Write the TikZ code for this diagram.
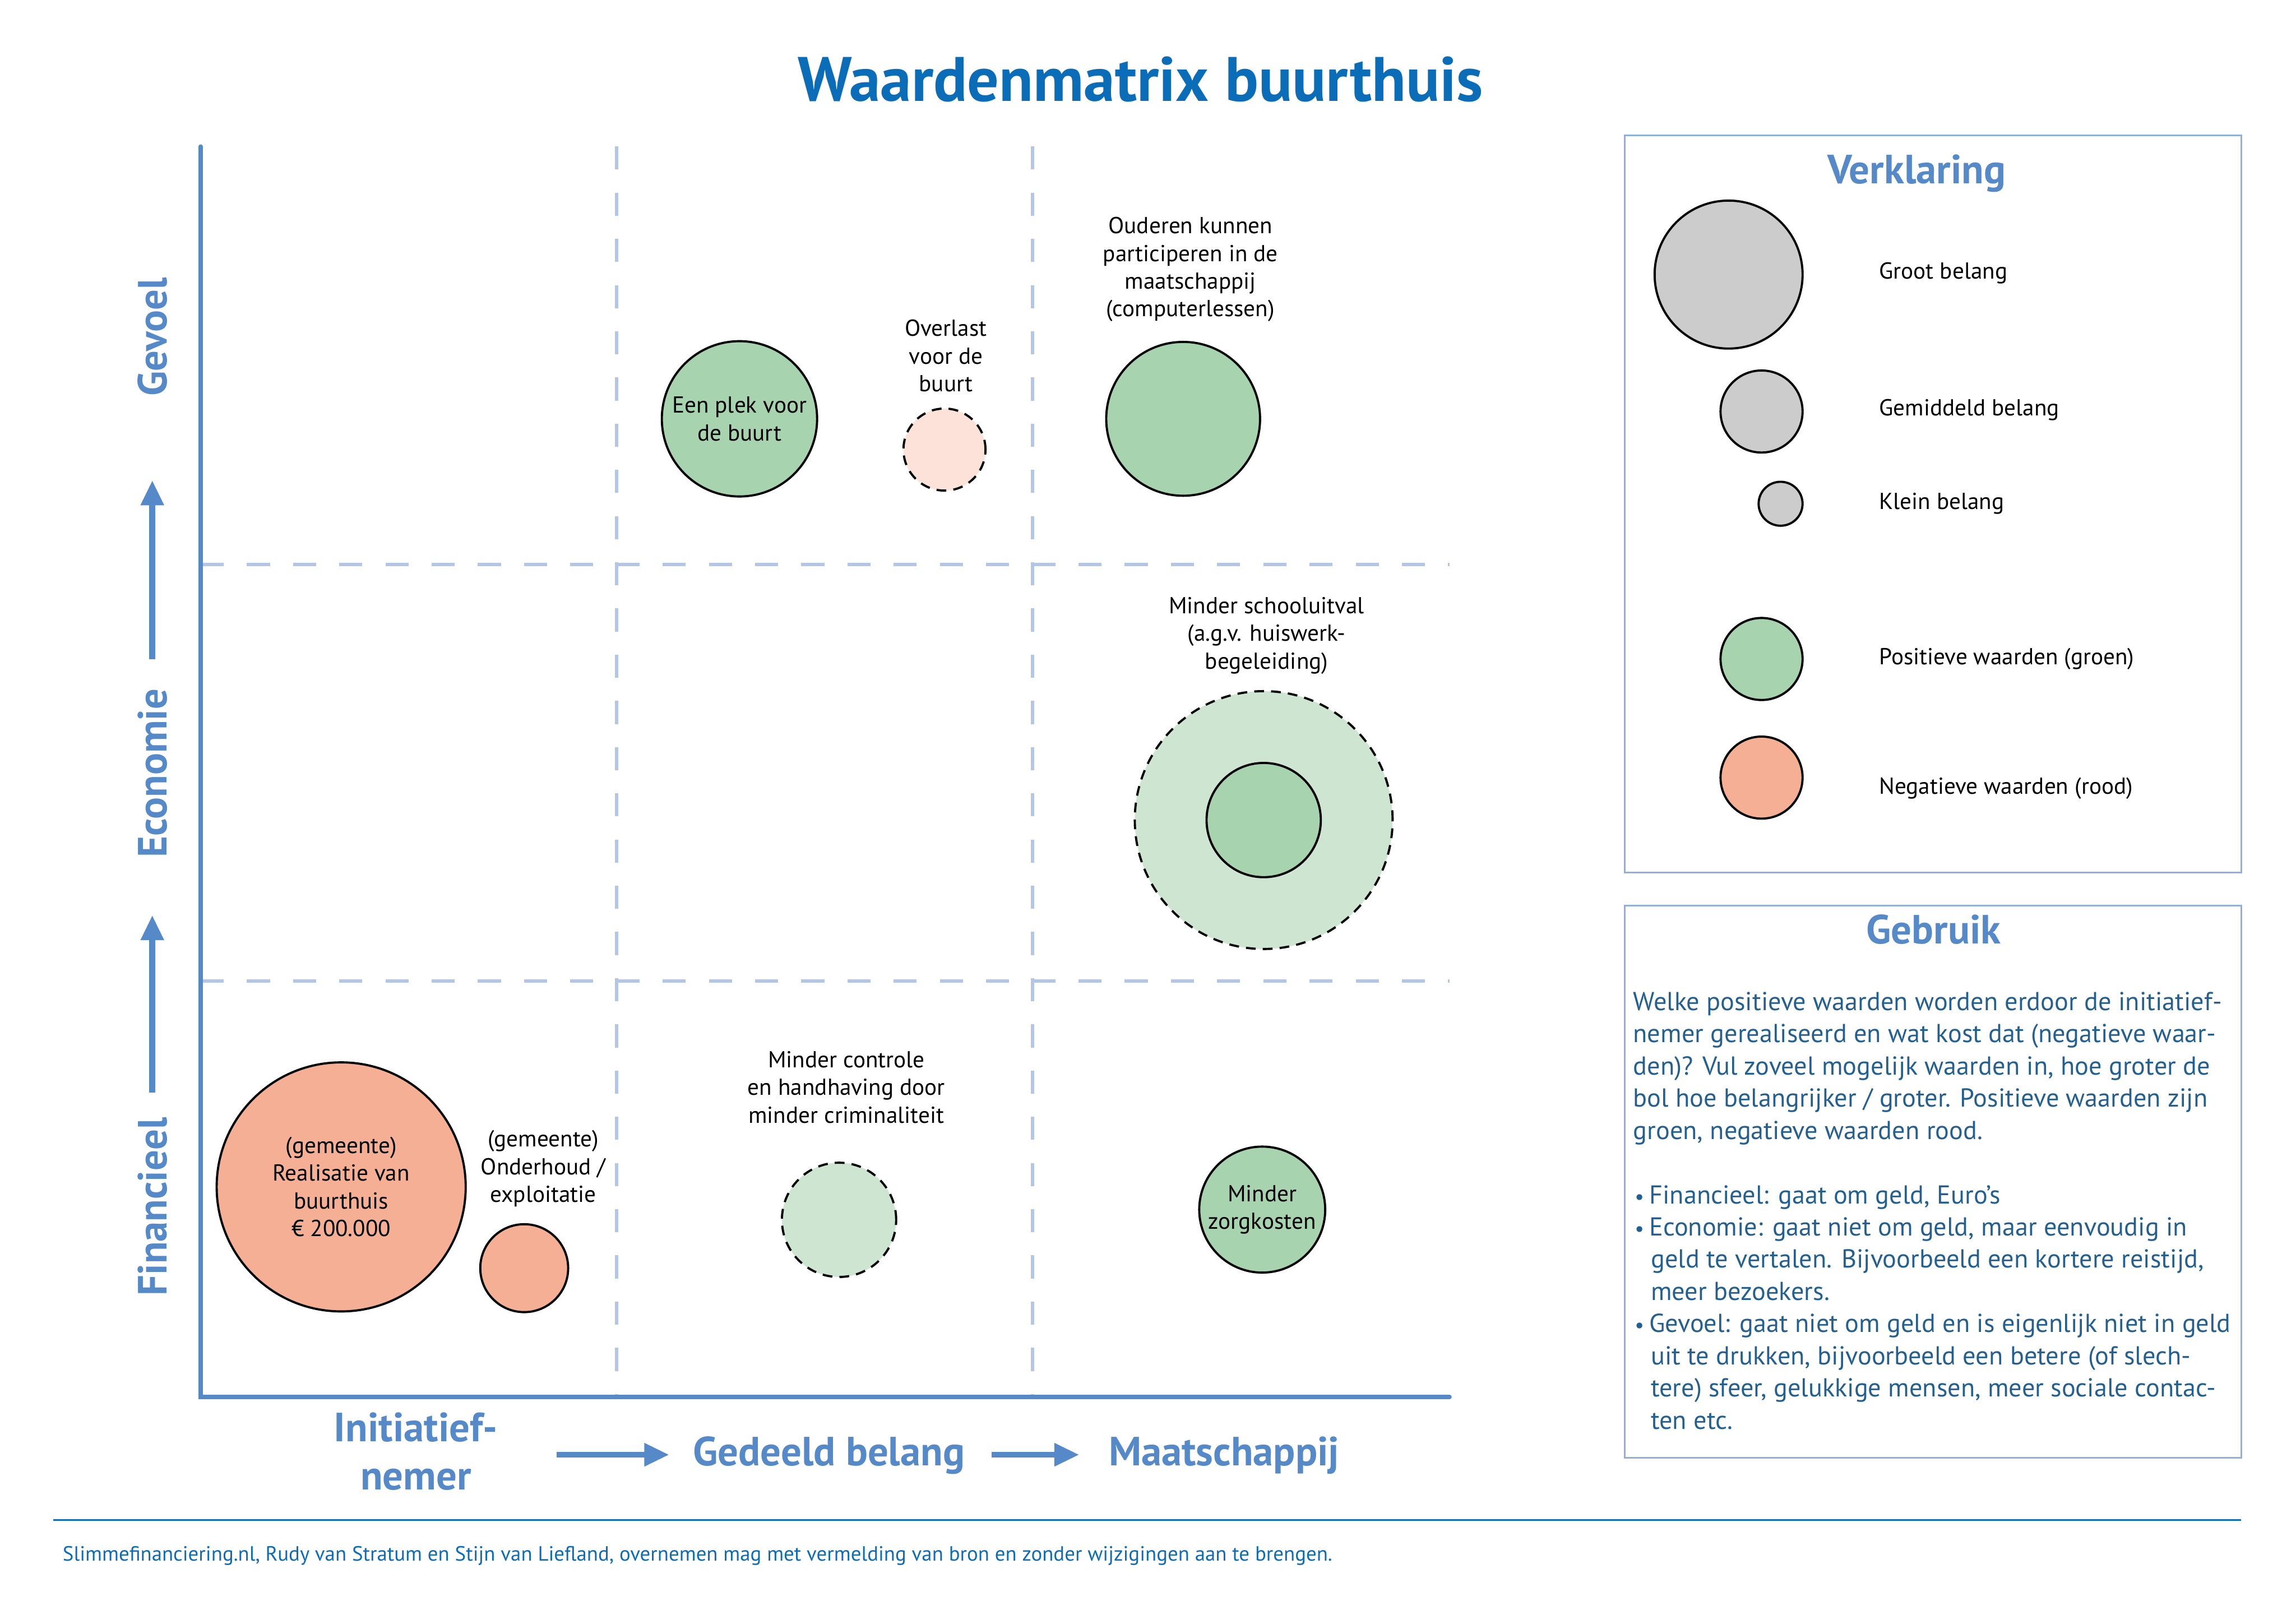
\documentclass[tikz,border=0pt]{standalone}
\usepackage{fontspec}
\setmainfont{PT Sans}
\usepackage{tikz}
\usetikzlibrary{arrows.meta,positioning}
\definecolor{titelblauw}{HTML}{0B6DB7}
\definecolor{asblauw}{HTML}{5589C8}
\definecolor{rasterblauw}{HTML}{B3C6E7}
\definecolor{kaderblauw}{HTML}{8FB1DE}
\definecolor{tekstblauw}{HTML}{24608F}
\definecolor{groen}{HTML}{A8D3AF}
\definecolor{lichtgroen}{HTML}{CEE6D1}
\definecolor{zalm}{HTML}{F4AF95}
\definecolor{lichtzalm}{HTML}{FCE2D8}
\definecolor{grijs}{HTML}{CCCCCC}
\newcommand{\punt}{\makebox[0.62em][l]{\hspace{0.06em}\scalebox{0.8}{•}}}
\newcommand{\inspring}{\hspace*{0.68em}}

\begin{document}
\begin{tikzpicture}[x=0.01894cm,y=-0.01894cm,
  bol/.style={circle,draw=black,line width=0.8pt,inner sep=0pt,minimum size=#1*0.03788cm,align=center,font=\fontsize{8.5}{10.2}\selectfont},
  groenbol/.style={bol=#1,fill=groen},
  roodbol/.style={bol=#1,fill=zalm},
  grijsbol/.style={bol=#1,fill=grijs},
  stip/.style={dash pattern=on 3.6pt off 2.6pt},
  groenstip/.style={bol=#1,fill=lichtgroen,stip},
  roodstip/.style={bol=#1,fill=lichtzalm,stip},
  tekst/.style={align=center,inner sep=0pt,font=\fontsize{8.5}{10.2}\selectfont},
  as/.style={draw=asblauw,line width=1.5pt,line cap=round},
  raster/.style={draw=rasterblauw,line width=1.3pt,dash pattern=on 8.5pt off 8.5pt},
  pijl/.style={draw=asblauw,line width=2.15pt,-{Triangle[width=0.284cm,length=0.322cm]}},
  askop/.style={text=asblauw,font=\fontsize{15}{17.7}\selectfont\bfseries,align=center,inner sep=0pt},
  kader/.style={draw=kaderblauw,line width=0.6pt},
  kop/.style={text=asblauw,font=\fontsize{15}{18}\selectfont\bfseries,inner sep=0pt},
  verkl/.style={anchor=west,inner sep=0pt,font=\fontsize{8.5}{10.2}\selectfont},
  uitleg/.style={anchor=north west,align=left,inner sep=0pt,text=tekstblauw,font=\fontsize{9.55}{11.85}\selectfont}]
\useasboundingbox (0,0) rectangle (1568,1109);
% titel
\node[text=titelblauw,font=\fontsize{23.1}{27}\selectfont\bfseries,inner sep=0pt] (titel) at (779,54) {Waardenmatrix buurthuis};
% raster en assen
\foreach \gx in {421,705} \draw[raster] (\gx,100) -- (\gx,954);
\foreach \gy in {385.5,670} \draw[raster] (137,\gy) -- (990,\gy);
\draw[as] (137,100) -- (137,954) -- (990,954);
% verticale as
\node[askop,rotate=90] (gevoel) at (104,230) {Gevoel};
\node[askop,rotate=90] (economie) at (104,528) {Economie};
\node[askop,rotate=90] (financieel) at (104,824) {Financieel};
\coordinate (v1a) at (104,450); \coordinate (v1b) at (104,328);
\coordinate (v2a) at (104,746); \coordinate (v2b) at (104,625);
\draw[pijl] (v1a) -- (v1b); \draw[pijl] (v2a) -- (v2b);
% horizontale as
\node[askop] (initiatief) at (284,991) {Initiatief-\\nemer};
\node[askop] (gedeeld) at (566,994) {Gedeeld belang};
\node[askop] (maatschappij) at (836,994) {Maatschappij};
\coordinate (h1a) at (380,993.4); \coordinate (h1b) at (457,993.4);
\coordinate (h2a) at (677,993.4); \coordinate (h2b) at (737,993.4);
\draw[pijl] (h1a) -- (h1b); \draw[pijl] (h2a) -- (h2b);
% bollen
\node[roodbol=85] (realisatie) at (233,810.5) {(gemeente)\\Realisatie van\\buurthuis\\€ 200.000};
\node[roodbol=30] (onderhoud) at (358,866) {};
\node[tekst] (onderhoudtxt) at (371,798) {(gemeente)\\Onderhoud /\\exploitatie};
\node[groenbol=53] (plek) at (505,286) {Een plek voor\\de buurt};
\node[roodstip=28] (overlast) at (645,307) {};
\node[tekst] (overlasttxt) at (646,243) {Overlast\\voor de\\buurt};
\node[groenbol=52.5] (ouderen) at (808,286) {};
\node[tekst] (ouderentxt) at (813,184) {Ouderen kunnen\\participeren in de\\maatschappij\\(computerlessen)};
\node[groenstip=88] (uitvalmax) at (863,560) {};
\node[groenbol=39] (uitval) at (863,560) {};
\node[tekst] (uitvaltxt) at (865,434) {Minder schooluitval\\(a.g.v. huiswerk-\\begeleiding)};
\node[groenstip=39] (controle) at (573,833) {};
\node[tekst] (controletxt) at (578,742.5) {Minder controle\\en handhaving door\\minder criminaliteit};
\node[groenbol=43] (zorg) at (862,826) {Minder\\zorgkosten};
% verklaring
\draw[kader] (1109.5,92.4) rectangle (1530.6,596);
\node[kop] (verklaring) at (1309,118.5) {Verklaring};
\node[grijsbol=50.5] (groot) at (1180.5,187.5) {};
\node[grijsbol=28] (gemiddeld) at (1203,281) {};
\node[grijsbol=15] (klein) at (1216,344) {};
\node[groenbol=28] (positief) at (1203,450) {};
\node[roodbol=28] (negatief) at (1203,531) {};
\node[verkl] (grootlbl) at (1283,186.5) {Groot belang};
\node[verkl] (gemiddeldlbl) at (1283,280) {Gemiddeld belang};
\node[verkl] (kleinlbl) at (1283,344) {Klein belang};
\node[verkl] (positieflbl) at (1283,450) {Positieve waarden (groen)};
\node[verkl] (negatieflbl) at (1283,538.5) {Negatieve waarden (rood)};
% gebruik
\draw[kader] (1109.5,618.5) rectangle (1530.6,995.6);
\node[kop] (gebruik) at (1320.5,634.7) {Gebruik};
\node[uitleg] (uitleg) at (1115,677) {Welke positieve waarden worden erdoor de initiatief-\\
nemer gerealiseerd en wat kost dat (negatieve waar-\\
den)? Vul zoveel mogelijk waarden in, hoe groter de\\
bol hoe belangrijker / groter. Positieve waarden zijn\\
groen, negatieve waarden rood.\\[11.85pt]
\punt Financieel: gaat om geld, Euro’s\\
\punt Economie: gaat niet om geld, maar eenvoudig in\\
\inspring geld te vertalen. Bijvoorbeeld een kortere reistijd,\\
\inspring meer bezoekers.\\
\punt Gevoel: gaat niet om geld en is eigenlijk niet in geld\\
\inspring uit te drukken, bijvoorbeeld een betere (of slech-\\
\inspring tere) sfeer, gelukkige mensen, meer sociale contac-\\
\inspring ten etc.};
% bron
\draw[titelblauw,line width=0.7pt] (36.5,1038) -- (1530.6,1038);
\node[anchor=base west,inner sep=0pt,text=titelblauw,font=\fontsize{7.6}{9.2}\selectfont] (bron) at (42.5,1066) {Slimmefinanciering.nl, Rudy van Stratum en Stijn van Liefland, overnemen mag met vermelding van bron en zonder wijzigingen aan te brengen.};
\end{tikzpicture}
\end{document}
